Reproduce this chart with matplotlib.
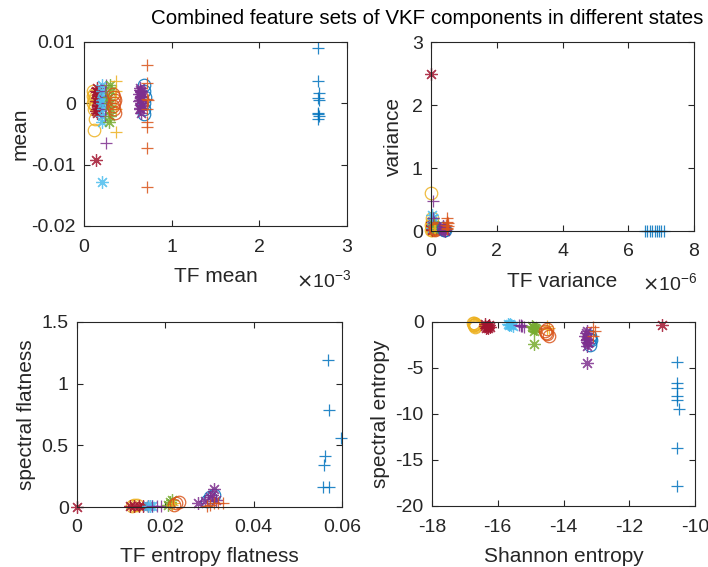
#!/usr/bin/env python3

import numpy as np
import matplotlib

matplotlib.use('Agg')
import matplotlib.pyplot as plt

plt.rcParams['font.family'] = ['Liberation Sans', 'DejaVu Sans']
plt.rcParams['axes.unicode_minus'] = False

# group styles (MATLAB default colour order)
groups = ['A', 'B', 'C', 'D', 'E', 'F', 'G', 'I', 'H', 'J', 'K']
colors = {'A': '#EDB120', 'B': '#A2142F', 'C': '#4DBEEE', 'D': '#7E2F8E',
          'E': '#77AC30', 'F': '#EDB120', 'G': '#D95319', 'H': '#7E2F8E',
          'I': '#0072BD', 'J': '#D95319', 'K': '#0072BD'}
markers = {'A': 'o', 'B': '*', 'C': '*', 'D': '+', 'E': '*', 'F': '+',
           'G': 'o', 'H': '*', 'I': 'o', 'J': '+', 'K': '+'}

# TF mean (x) / mean (y)
tf_mean = {
    'A': [0.10e-3, 0.11e-3, 0.12e-3, 0.11e-3, 0.10e-3, 0.12e-3, 0.11e-3, 0.12e-3, 0.11e-3, 0.10e-3, 0.12e-3],
    'B': [0.15e-3, 0.14e-3, 0.16e-3, 0.15e-3, 0.14e-3, 0.16e-3, 0.15e-3, 0.15e-3, 0.14e-3, 0.15e-3, 0.16e-3, 0.14e-3],
    'C': [0.20e-3, 0.21e-3, 0.22e-3, 0.20e-3, 0.21e-3, 0.22e-3, 0.21e-3, 0.20e-3, 0.20e-3],
    'D': [0.25e-3, 0.24e-3, 0.25e-3, 0.26e-3, 0.25e-3, 0.24e-3, 0.25e-3],
    'E': [0.30e-3, 0.31e-3, 0.29e-3, 0.30e-3, 0.31e-3, 0.30e-3, 0.29e-3],
    'F': [0.36e-3, 0.36e-3, 0.35e-3, 0.36e-3, 0.36e-3],
    'G': [0.33e-3, 0.34e-3, 0.35e-3, 0.34e-3, 0.33e-3, 0.34e-3, 0.35e-3],
    'H': [0.64e-3, 0.65e-3, 0.63e-3, 0.66e-3, 0.64e-3, 0.65e-3, 0.66e-3, 0.64e-3, 0.65e-3,
          0.64e-3, 0.65e-3, 0.63e-3, 0.66e-3, 0.64e-3, 0.65e-3],
    'I': [0.68e-3, 0.69e-3, 0.70e-3, 0.69e-3, 0.68e-3, 0.69e-3],
    'J': [0.72e-3, 0.72e-3, 0.72e-3, 0.73e-3, 0.72e-3, 0.72e-3, 0.72e-3, 0.72e-3, 0.72e-3],
    'K': [2.67e-3, 2.67e-3, 2.68e-3, 2.67e-3, 2.68e-3, 2.67e-3, 2.67e-3, 2.68e-3, 2.67e-3],
}
mean = {
    'A': [0.002, 0.0015, 0.001, 0.0005, 0.0, -0.0005, -0.001, -0.0025, -0.0044, 0.0012, -0.0002],
    'B': [0.0025, 0.002, 0.0012, 0.0008, 0.0003, -0.0005, -0.001, -0.0015, -0.0093, 0.0018, -0.0002, -0.0012],
    'C': [0.003, 0.002, 0.001, 0.0005, 0.0, -0.001, -0.002, -0.003, -0.0129],
    'D': [0.003, 0.002, 0.001, 0.0, -0.001, -0.002, -0.0064],
    'E': [0.003, 0.002, 0.001, 0.0, -0.001, -0.002, -0.003],
    'F': [0.0036, 0.002, 0.001, -0.001, -0.0046],
    'G': [0.0015, 0.001, 0.0005, 0.0, -0.0005, -0.001, -0.0015],
    'H': [0.0025, 0.002, 0.0015, 0.001, 0.0005, 0.0, -0.0005, -0.001, -0.0015,
          0.0022, 0.0012, 0.0003, -0.0002, -0.0008, 0.0018],
    'I': [0.003, 0.002, 0.001, 0.0, -0.001, -0.0018],
    'J': [0.0062, 0.0033, 0.0007, 0.0005, -0.001, -0.0031, -0.0039, -0.0073, -0.0137],
    'K': [0.009, 0.0037, 0.0017, 0.0009, 0.0005, -0.0015, -0.0018, -0.002, -0.0025],
}

# TF variance (x) / variance (y)
tf_var = {
    'A': [0.0, 0.02e-6, 0.03e-6, 0.01e-6, 0.04e-6, 0.02e-6, 0.05e-6, 0.03e-6, 0.01e-6],
    'B': [0.0, 0.02e-6, 0.04e-6, 0.03e-6, 0.05e-6, 0.02e-6, 0.04e-6],
    'C': [0.04e-6, 0.05e-6, 0.06e-6, 0.05e-6, 0.04e-6],
    'D': [0.05e-6, 0.06e-6, 0.08e-6, 0.07e-6, 0.09e-6, 0.1e-6],
    'E': [0.1e-6, 0.12e-6, 0.11e-6],
    'F': [0.1e-6, 0.12e-6],
    'G': [0.12e-6, 0.14e-6, 0.13e-6],
    'H': [0.35e-6, 0.38e-6, 0.4e-6, 0.42e-6, 0.37e-6, 0.44e-6],
    'I': [0.38e-6, 0.4e-6, 0.42e-6],
    'J': [0.5e-6, 0.48e-6, 0.52e-6, 0.47e-6, 0.53e-6, 0.5e-6, 0.49e-6],
    'K': [6.5e-6, 6.58e-6, 6.65e-6, 6.72e-6, 6.8e-6, 6.86e-6, 6.93e-6, 7.0e-6, 7.08e-6],
}
variance = {
    'A': [0.6, 0.2, 0.15, 0.1, 0.08, 0.05, 0.03, 0.02, 0.01],
    'B': [2.5, 0.15, 0.1, 0.08, 0.05, 0.03, 0.02],
    'C': [0.25, 0.2, 0.15, 0.1, 0.05],
    'D': [0.47, 0.2, 0.15, 0.1, 0.05, 0.02],
    'E': [0.1, 0.05, 0.02],
    'F': [0.05, 0.02],
    'G': [0.05, 0.03, 0.01],
    'H': [0.08, 0.05, 0.03, 0.02, 0.01, 0.005],
    'I': [0.04, 0.02, 0.01],
    'J': [0.2, 0.15, 0.12, 0.1, 0.08, 0.05, 0.03],
    'K': [0.005, 0.004, 0.006, 0.005, 0.004, 0.005, 0.006, 0.004, 0.005],
}

# TF entropy flatness (x) / spectral flatness (y)
tf_ent_flat = {
    'A': [0.0125, 0.013, 0.0135],
    'B': [0.0, 0.012, 0.013, 0.014, 0.015, 0.016],
    'C': [0.016, 0.0165, 0.017],
    'D': [0.017, 0.018, 0.019],
    'E': [0.0205, 0.021, 0.0215],
    'F': [0.0215, 0.022],
    'G': [0.022, 0.023, 0.0225],
    'H': [0.0275, 0.029, 0.030, 0.031, 0.0305, 0.0315],
    'I': [0.0295, 0.030, 0.031],
    'J': [0.0295, 0.030, 0.031, 0.032, 0.033],
    'K': [0.0568, 0.057, 0.0598, 0.0562, 0.056, 0.0557, 0.057],
}
spec_flat = {
    'A': [0.01, 0.02, 0.015],
    'B': [0.0, 0.005, 0.005, 0.008, 0.005, 0.005],
    'C': [0.005, 0.006, 0.005],
    'D': [0.005, 0.006, 0.005],
    'E': [0.02, 0.04, 0.06],
    'F': [0.02, 0.03],
    'G': [0.02, 0.04, 0.03],
    'H': [0.03, 0.05, 0.08, 0.15, 0.1, 0.06],
    'I': [0.05, 0.08, 0.1],
    'J': [0.01, 0.02, 0.03, 0.03, 0.03],
    'K': [1.19, 0.79, 0.56, 0.41, 0.34, 0.16, 0.16],
}

# Shannon entropy (x) / spectral entropy (y)
shannon = {
    'A': [-16.75, -16.7, -16.72, -16.68, -16.7, -16.73, -16.69, -16.71],
    'B': [-16.4, -16.3, -16.25, -16.35, -16.3, -16.28, -16.38, -16.33, -11.0],
    'C': [-15.7, -15.6, -15.55, -15.65, -15.62],
    'D': [-15.35, -15.25, -15.2, -15.3, -15.28],
    'E': [-14.95, -14.9, -14.85, -14.9, -14.92, -14.88, -14.9],
    'F': [-14.5, -14.45, -14.5],
    'G': [-14.5, -14.55, -14.5, -14.45, -14.52],
    'H': [-13.3, -13.35, -13.3, -13.25, -13.3, -13.32, -13.28, -13.3, -13.3],
    'I': [-13.2, -13.15, -13.2, -13.18],
    'J': [-13.1, -13.05, -13.1],
    'K': [-10.55, -10.55, -10.55, -10.55, -10.55, -10.5, -10.55, -10.55],
}
spec_ent = {
    'A': [-0.1, -0.2, -0.3, -0.4, -0.5, -0.15, -0.25, -0.35],
    'B': [-0.2, -0.4, -0.5, -0.6, -0.7, -0.3, -0.45, -0.55, -0.3],
    'C': [-0.2, -0.3, -0.4, -0.3, -0.25],
    'D': [-0.3, -0.4, -0.5, -0.4, -0.35],
    'E': [-0.4, -0.6, -0.8, -1.0, -0.5, -0.7, -2.4],
    'F': [-0.4, -0.6, -0.8],
    'G': [-0.8, -1.0, -1.3, -1.5, -1.15],
    'H': [-1.0, -1.5, -2.0, -2.3, -2.6, -1.2, -1.8, -2.2, -4.5],
    'I': [-1.5, -2.0, -2.5, -1.8],
    'J': [-0.5, -1.0, -1.5],
    'K': [-4.3, -6.6, -7.2, -8.0, -8.5, -9.5, -13.7, -17.8],
}

txt = '#262626'
asterisk = (8, 2, 0)   # MATLAB-like '*' (plus and cross)


def scatter_groups(ax, xs, ys):
    for g in groups:
        m = asterisk if markers[g] == '*' else markers[g]
        ax.plot(xs[g], ys[g], linestyle='none', marker=m,
                color=colors[g], markersize=9, markeredgewidth=0.9,
                markerfacecolor='none', alpha=0.85, clip_on=False)


def style(ax):
    ax.tick_params(direction='in', top=True, right=True, length=4,
                   labelsize=14, colors=txt)
    ax.tick_params(axis='x', pad=9)
    ax.tick_params(axis='y', pad=6)
    for s in ax.spines.values():
        s.set_color(txt)
        s.set_linewidth(0.8)


W, H = 708, 567
fig = plt.figure(figsize=(W / 100, H / 100), dpi=100)


def box(l, r, t, b):
    return [l / W, 1 - b / H, (r - l) / W, (b - t) / H]


def labels(ax, xl, yl, xpos, ypos):
    ax.set_xlabel(xl, fontsize=15, color=txt)
    ax.set_ylabel(yl, fontsize=15, color=txt)
    ax.xaxis.set_label_coords(0.5, xpos)
    ax.xaxis.label.set_va('center')
    ax.yaxis.set_label_coords(ypos, 0.5)
    ax.yaxis.label.set_va('center')


ax1 = fig.add_axes(box(84, 347, 42, 226))
ax2 = fig.add_axes(box(431, 694, 42, 231))
ax3 = fig.add_axes(box(77, 342, 322, 507))
ax4 = fig.add_axes(box(432, 695, 322, 506))

scatter_groups(ax1, tf_mean, mean)
ax1.set_xlim(0, 3e-3)
ax1.set_ylim(-0.02, 0.01)
ax1.set_xticks([0, 1e-3, 2e-3, 3e-3])
ax1.set_xticklabels(['0', '1', '2', '3'])
ax1.set_yticks([-0.02, -0.01, 0, 0.01])
ax1.set_yticklabels(['-0.02', '-0.01', '0', '0.01'])
labels(ax1, 'TF mean', 'mean', -0.272, -0.243)

scatter_groups(ax2, tf_var, variance)
ax2.set_xlim(0, 8e-6)
ax2.set_ylim(0, 3)
ax2.set_xticks([0, 2e-6, 4e-6, 6e-6, 8e-6])
ax2.set_xticklabels(['0', '2', '4', '6', '8'])
ax2.set_yticks([0, 1, 2, 3])
labels(ax2, 'TF variance', 'variance', -0.265, -0.141)

scatter_groups(ax3, tf_ent_flat, spec_flat)
ax3.set_xlim(0, 0.06)
ax3.set_ylim(0, 1.5)
ax3.set_xticks([0, 0.02, 0.04, 0.06])
ax3.set_xticklabels(['0', '0.02', '0.04', '0.06'])
ax3.set_yticks([0, 0.5, 1, 1.5])
ax3.set_yticklabels(['0', '0.5', '1', '1.5'])
labels(ax3, 'TF entropy flatness', 'spectral flatness', -0.270, -0.189)

scatter_groups(ax4, shannon, spec_ent)
ax4.set_xlim(-18, -10)
ax4.set_ylim(-20, 0)
ax4.set_xticks([-18, -16, -14, -12, -10])
ax4.set_yticks([-20, -15, -10, -5, 0])
labels(ax4, 'Shannon entropy', 'spectral entropy', -0.277, -0.194)

for ax in (ax1, ax2, ax3, ax4):
    style(ax)

# exponent labels
fig.text(324 / W, 1 - 280 / H, r'$\times\mathregular{10^{-3}}$', fontsize=14,
         color=txt, ha='center', va='center')
fig.text(670 / W, 1 - 283 / H, r'$\times\mathregular{10^{-6}}$', fontsize=14,
         color=txt, ha='center', va='center')

fig.text(427 / W, 1 - 18 / H, 'Combined feature sets of VKF components in different states',
         fontsize=14.8, color='black', ha='center', va='center')

plt.savefig('out.png', dpi=100)
